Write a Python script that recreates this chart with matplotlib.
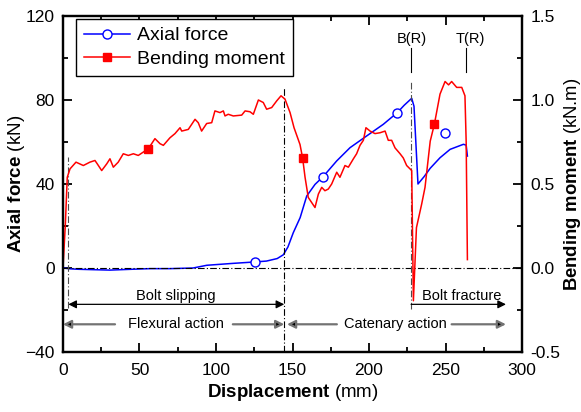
import numpy as np
import matplotlib
matplotlib.use("Agg")
import matplotlib.pyplot as plt
from matplotlib.ticker import MultipleLocator

plt.rcParams['font.family'] = ['Liberation Sans', 'DejaVu Sans']
plt.rcParams['mathtext.fontset'] = 'custom'
plt.rcParams['mathtext.rm'] = 'Liberation Sans'
plt.rcParams['mathtext.bf'] = 'Liberation Sans:bold'

# axial force (kN) vs displacement (mm)
axial_x = [0, 5, 10, 20, 30.7, 45, 57, 70, 85, 94, 111, 125.7, 133, 140, 144,
           147, 150.5, 155, 159.3, 164.7, 170, 178.9, 187.6, 198.5, 209.3, 218.5,
           223, 227.9, 229.4, 232, 236, 240, 246.4, 253, 261.7, 263.5, 264.3]
axial_f = [0, -0.4, -0.6, -0.8, -1, -0.6, -0.3, -0.3, 0, 1.3, 2.2, 2.9, 3.3, 4.5, 6.3,
           10, 16.8, 24, 34.3, 39.8, 43.5, 51, 57.3, 62.9, 68.4, 74,
           77.5, 80.8, 77, 40, 43.5, 47.5, 52.5, 56.5, 58.9, 58.5, 53.3]

# bending moment (kN.m) vs displacement (mm)
moment_x = [0, 1.5, 2.8, 4.6, 8.5, 13.3, 17.6, 20.9, 22.4, 25.3, 28.6, 30.7, 32.9,
            36.1, 39.4, 42.7, 46, 49.2, 52.5, 55.8, 60.1, 63.4, 65.6, 69.9, 73.2,
            76.5, 77.6, 81.9, 86.3, 88.4, 90.6, 93.9, 97.2, 99.3, 102.6, 104.8,
            105.9, 108, 111.3, 116.8, 119, 122.2, 124.4, 127.7, 130.9, 133.1,
            136.4, 139.7, 142.5, 145.1, 148.4, 151, 154.9, 156.6, 158.2, 160.3,
            162.5, 164.7, 166.9, 169.1, 171.2, 173.4, 175.6, 178.9, 181, 184.3,
            186.5, 189.8, 191.9, 194.1, 196.3, 198, 200.7, 203.9, 207.2, 210.5,
            212.6, 214.8, 217, 220.3, 222.4, 224.6, 226.8, 227.9, 229, 231, 234.4,
            236.6, 240, 242.7, 246.4, 249.7, 252, 254, 257.3, 260.6, 262.7, 263.5,
            264.3]
moment_m = [0, 0.25, 0.54, 0.59, 0.63, 0.61, 0.63, 0.64, 0.62, 0.58, 0.62, 0.65, 0.60,
            0.63, 0.68, 0.67, 0.68, 0.67, 0.69, 0.71, 0.77, 0.74, 0.73, 0.775, 0.80,
            0.835, 0.815, 0.825, 0.885, 0.865, 0.815, 0.86, 0.865, 0.935, 0.925, 0.935,
            0.905, 0.915, 0.905, 0.91, 0.935, 0.93, 0.915, 1.0, 0.985, 0.945,
            0.955, 0.995, 1.025, 1.005, 0.925, 0.835, 0.735, 0.655, 0.54, 0.42,
            0.39, 0.36, 0.44, 0.48, 0.46, 0.47, 0.50, 0.57, 0.54, 0.61,
            0.60, 0.65, 0.68, 0.73, 0.76, 0.835, 0.815, 0.80, 0.805, 0.815,
            0.76, 0.76, 0.715, 0.68, 0.655, 0.61, 0.59, 0.58, -0.195, 0.24, 0.38,
            0.48, 0.755, 0.855, 1.035, 1.11, 1.09, 1.11, 1.075, 1.075, 1.025, 0.75,
            0.05]

# marker positions
axial_mk_x = [125.7, 170, 218.5, 249.7]
axial_mk_f = [2.9, 43.5, 74, 64.4]
moment_mk_x = [55.8, 156.6, 242.7]
moment_mk_m = [0.71, 0.655, 0.855]

fig = plt.figure(figsize=(5.81, 4.12), dpi=100)
ax = fig.add_axes([0.1084, 0.1456, 0.7901, 0.8156])
ax2 = ax.twinx()

ax.plot(axial_x, axial_f, color='#0000ff', lw=1.1)
ax.plot(axial_mk_x, axial_mk_f, ls='none', marker='o', ms=6.5, mfc='white',
        mec='#0000ff', mew=1.0)
ax2.plot(moment_x, moment_m, color='#ff0000', lw=1.1)
ax2.plot(moment_mk_x, moment_mk_m, ls='none', marker='s', ms=5.5, color='#ff0000')

ax.set_xlim(0, 300)
ax.set_ylim(-40, 120)
ax2.set_ylim(-0.5, 1.5)

ax.xaxis.set_major_locator(MultipleLocator(50))
ax.xaxis.set_minor_locator(MultipleLocator(25))
ax.yaxis.set_major_locator(MultipleLocator(40))
ax.yaxis.set_minor_locator(MultipleLocator(20))
ax2.yaxis.set_major_locator(MultipleLocator(0.5))
ax2.yaxis.set_minor_locator(MultipleLocator(0.25))
ax2.yaxis.set_major_formatter(plt.FormatStrFormatter('%.1f'))

ax.tick_params(which='both', direction='in', top=True, right=False, labelsize=12.5,
               width=1.3)
ax.tick_params(axis='x', which='major', length=6.5, pad=8)
ax.tick_params(axis='y', which='major', length=6.5, pad=6)
ax.tick_params(which='minor', length=3.6)
ax2.tick_params(which='both', direction='in', labelsize=12.5, width=1.3)
ax2.tick_params(which='major', length=6.5, pad=6)
ax2.tick_params(which='minor', length=3.6)
for a in (ax, ax2):
    for s in a.spines.values():
        s.set_linewidth(1.6)

ax.set_xlabel(r'$\bf{Displacement}$ (mm)', fontsize=13.5, labelpad=3)
ax.set_ylabel(r'$\bf{Axial\ force}$ (kN)', fontsize=13.5, labelpad=-1)
ax2.set_ylabel(r'$\bf{Bending\ moment}$ (kN.m)', fontsize=13.3, labelpad=1)

# reference lines
dd = (0, (6, 2, 1, 2))
ax.axhline(0, color='k', lw=0.8, ls=dd)
ax.plot([3.5, 3.5], [-19, 53], color='0.3', lw=0.8, ls=dd)
ax.plot([144.6, 144.6], [-40, 86], color='k', lw=0.8, ls=dd)
ax.plot([227.5, 227.5], [-19.5, 89], color='0.3', lw=0.8, ls=dd)
ax.plot([227.5, 227.5], [93.3, 104.8], color='k', lw=0.8)
ax.plot([263.2, 263.2], [93.3, 104.8], color='k', lw=0.8)
ax.text(228, 109.2, 'B(R)', ha='center', va='center', fontsize=10.5)
ax.text(266, 109.2, 'T(R)', ha='center', va='center', fontsize=10.5)

# phase annotations
blk = dict(arrowstyle='<|-|>', color='k', lw=0.9, shrinkA=0, shrinkB=0,
           mutation_scale=12)
ax.annotate('', xy=(144.6, -17.3), xytext=(3.5, -17.3), arrowprops=blk)
ax.text(74, -13.4, 'Bolt slipping', ha='center', va='center', fontsize=10.5)
one = dict(blk, arrowstyle='-|>')
ax.annotate('', xy=(289.5, -17.3), xytext=(227.5, -17.3), arrowprops=one)
ax.text(260.6, -13.4, 'Bolt fracture', ha='center', va='center', fontsize=10.5)

gry = dict(arrowstyle='-|>', ec='0.45', fc='k', lw=1.6, shrinkA=0, shrinkB=0,
           mutation_scale=12)
for x0, x1 in [(34, 0), (111, 144.6), (179, 146.4), (254, 289.5)]:
    ax.annotate('', xy=(x1, -26.8), xytext=(x0, -26.8), arrowprops=gry)
ax.text(74, -26.8, 'Flexural action', ha='center', va='center', fontsize=10.5)
ax.text(217, -26.8, 'Catenary action', ha='center', va='center', fontsize=10.5)

# legend
h1, = ax2.plot([], [], color='#0000ff', lw=1.1, marker='o', ms=6.5, mfc='white',
               mec='#0000ff')
h2, = ax2.plot([], [], color='#ff0000', lw=1.1, marker='s', ms=5.5)
leg = ax2.legend([h1, h2], ['Axial force', 'Bending moment'], loc='upper left',
                 bbox_to_anchor=(0.028, 0.991), borderaxespad=0, fontsize=14,
                 fancybox=False, edgecolor='k', framealpha=1, handlelength=2.4,
                 handletextpad=0.35, labelspacing=0.3, borderpad=0.4)
leg.get_frame().set_linewidth(1.0)

fig.savefig('out.png', dpi=100)
